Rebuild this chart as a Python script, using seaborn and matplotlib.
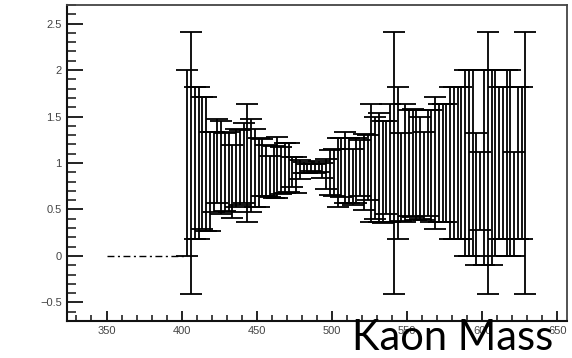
import numpy as np
import pandas as pd
import matplotlib
matplotlib.use("Agg")
import matplotlib.pyplot as plt
import seaborn as sns
from matplotlib.ticker import MultipleLocator

# Bin centres (Kaon mass), ratio values and their errors
mass = [403.75, 406.25, 408.75, 411.25, 413.75, 416.25, 418.75, 421.25, 423.75, 426.25,
        428.75, 431.25, 433.75, 436.25, 438.75, 441.25, 443.75, 446.25, 448.75, 451.25,
        453.75, 456.25, 458.75, 461.25, 463.75, 466.25, 468.75, 471.25, 473.75, 476.25,
        478.75, 481.25, 483.75, 486.25, 488.75, 491.25, 493.75, 496.25, 498.75, 501.25,
        503.75, 506.25, 508.75, 511.25, 513.75, 516.25, 518.75, 521.25, 523.75, 526.25,
        528.75, 531.25, 533.75, 536.25, 538.75, 541.25, 543.75, 546.25, 548.75, 551.25,
        553.75, 556.25, 558.75, 561.25, 563.75, 566.25, 568.75, 571.25, 573.75, 576.25,
        578.75, 581.25, 583.75, 586.25, 588.75, 591.25, 593.75, 596.25, 598.75, 601.25,
        603.75, 606.25, 608.75, 611.25, 613.75, 616.25, 618.75, 621.25, 623.75, 626.25,
        628.75]
ratio = [1.00, 1.00, 1.00, 1.00, 1.00, 0.99, 0.80, 0.90, 1.02, 0.95,
         0.90, 0.90, 0.80, 0.95, 0.95, 1.00, 1.00, 0.97, 0.95, 0.90,
         0.95, 0.92, 0.85, 0.90, 0.95, 0.92, 0.95, 0.95, 0.90, 0.87,
         0.93, 0.95, 0.94, 0.95, 0.94, 0.96, 0.92, 0.88, 0.90, 0.90,
         0.90, 0.95, 0.95, 0.92, 0.85, 0.92, 0.95, 0.90, 0.95, 1.00,
         0.95, 0.95, 0.90, 0.95, 1.00, 1.00, 1.00, 0.85, 1.00, 1.00,
         1.00, 0.98, 0.95, 0.86, 1.00, 0.97, 1.00, 1.00, 1.00, 1.00,
         1.00, 1.00, 1.00, 1.00, 1.00, 1.00, 1.00, 0.61, 0.70, 0.95,
         1.00, 0.95, 1.00, 1.00, 1.00, 1.00, 1.00, 0.56, 1.00, 1.00,
         1.00]
err = [1.00, 1.41, 0.82, 0.82, 0.71, 0.72, 0.53, 0.43, 0.45, 0.50,
       0.42, 0.43, 0.39, 0.42, 0.40, 0.43, 0.63, 0.50, 0.42, 0.37,
       0.31, 0.27, 0.22, 0.28, 0.33, 0.25, 0.27, 0.26, 0.16, 0.19,
       0.10, 0.06, 0.05, 0.04, 0.05, 0.06, 0.08, 0.16, 0.24, 0.25,
       0.37, 0.32, 0.38, 0.35, 0.30, 0.35, 0.30, 0.41, 0.35, 0.63,
       0.55, 0.59, 0.55, 0.50, 0.63, 1.41, 0.82, 0.47, 0.63, 0.57,
       0.58, 0.59, 0.55, 0.47, 0.57, 0.60, 0.71, 0.63, 0.63, 0.63,
       0.82, 0.82, 0.82, 0.82, 1.00, 1.00, 1.00, 0.71, 0.42, 1.05,
       1.41, 1.05, 1.00, 0.82, 0.82, 1.00, 1.00, 0.56, 0.82, 0.82,
       1.41]

# Empty bins drawn as a dash-dot line at zero
empty_mass = [350.0, 403.5]
empty_ratio = [0.0, 0.0]

x_ticks = [350, 400, 450, 500, 550, 600, 650]
y_ticks = [-0.5, 0, 0.5, 1, 1.5, 2, 2.5]
y_tick_labels = ["\u22120.5", "0", "0.5", "1", "1.5", "2", "2.5"]
axis_title = "Kaon Mass"

sns.set_theme(style="white")
plt.rcParams["font.family"] = ["Liberation Sans", "DejaVu Sans"]

fig = plt.figure(figsize=(5.72, 3.58), dpi=100)
ax = fig.add_axes([0.1166, 0.1034, 0.8747, 0.8826])

df_empty = pd.DataFrame({"mass": empty_mass, "ratio": empty_ratio})
sns.lineplot(data=df_empty, x="mass", y="ratio", ax=ax, color="black",
             linewidth=1.0, linestyle=(0, (5, 2.5, 1.5, 2.5)), legend=False)

ax.errorbar(mass, ratio, yerr=err, fmt="none", ecolor="black",
            elinewidth=1.3, capsize=8.0, capthick=1.3)

ax.set_xlim(323.5, 656.5)
ax.set_ylim(-0.7, 2.7)
ax.set_xticks(x_ticks)
ax.set_xticklabels([str(v) for v in x_ticks])
ax.set_yticks(y_ticks)
ax.set_yticklabels(y_tick_labels)
ax.xaxis.set_minor_locator(MultipleLocator(10))
ax.yaxis.set_minor_locator(MultipleLocator(0.1))
ax.set_xlabel("")
ax.set_ylabel("")

for side in ["left", "bottom"]:
    ax.spines[side].set_color("#111111")
    ax.spines[side].set_linewidth(1.5)
for side in ["top", "right"]:
    ax.spines[side].set_color("#444444")
    ax.spines[side].set_linewidth(1.3)

ax.tick_params(axis="y", which="major", direction="in", length=11.5, width=1.3,
               left=True, right=False, labelsize=8, pad=3.6,
               labelcolor="#444444", color="#111111")
ax.tick_params(axis="y", which="minor", direction="in", length=6.3, width=1.1,
               left=True, right=False, color="#111111")
ax.tick_params(axis="x", which="major", direction="in", length=7.2, width=1.3,
               bottom=True, top=False, labelsize=8, pad=3.4,
               labelcolor="#444444", color="#111111")
ax.tick_params(axis="x", which="minor", direction="in", length=4, width=1.1,
               bottom=True, top=False, color="#111111")

fig.text(352 / 572, 8 / 358, axis_title, fontsize=30, family=["Lato", "DejaVu Sans"],
         color="black", ha="left", va="baseline")

fig.savefig("out.png", dpi=100)
